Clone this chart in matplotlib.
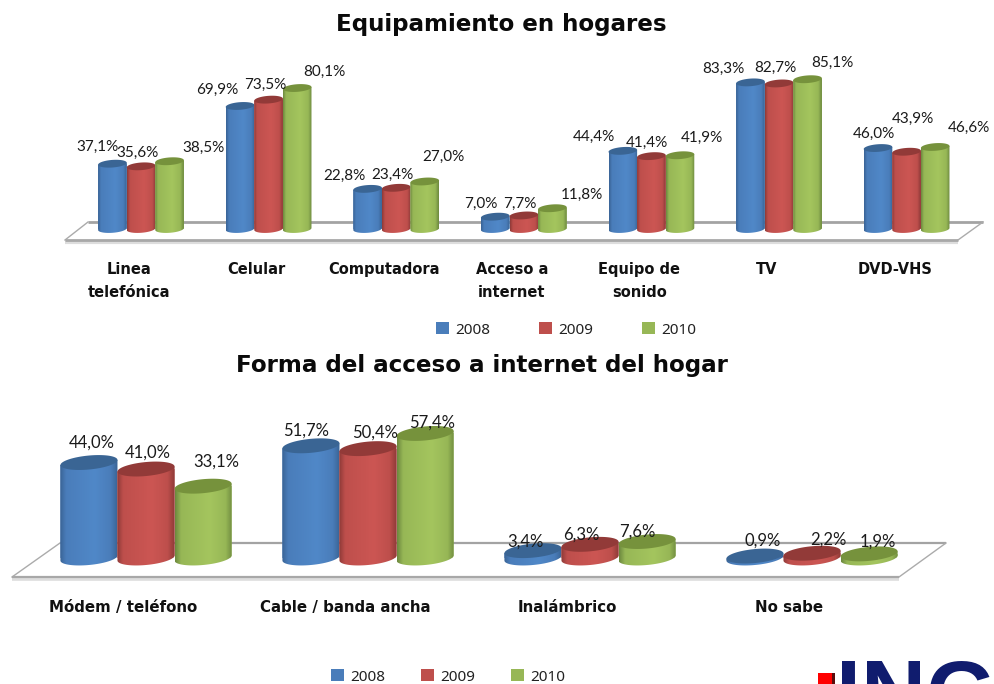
import numpy as np
import matplotlib
matplotlib.use("Agg")
import matplotlib.pyplot as plt
from matplotlib.colors import LinearSegmentedColormap
from matplotlib.patches import Polygon, Rectangle

W, H = 995, 684
years = ["2008", "2009", "2010"]

# Equipamiento en hogares
hogar_cats = ["Linea\ntelefónica", "Celular", "Computadora", "Acceso a\ninternet",
              "Equipo de\nsonido", "TV", "DVD-VHS"]
hogar_2008 = [37.1, 69.9, 22.8, 7.0, 44.4, 83.3, 46.0]
hogar_2009 = [35.6, 73.5, 23.4, 7.7, 41.4, 82.7, 43.9]
hogar_2010 = [38.5, 80.1, 27.0, 11.8, 41.9, 85.1, 46.6]

# Forma del acceso a internet del hogar
forma_cats = ["Módem / teléfono", "Cable / banda ancha", "Inalámbrico", "No sabe"]
forma_2008 = [44.0, 51.7, 3.4, 0.9]
forma_2009 = [41.0, 50.4, 6.3, 2.2]
forma_2010 = [33.1, 57.4, 7.6, 1.9]

# label placement in pixels (same order as the series, group by group)
hogar_lab_px = [(97, 147), (137, 153), (203, 148), (217, 90), (265, 85), (324, 72),
                (344, 176), (392, 175), (443, 157), (481, 204), (520, 204), (582, 195),
                (594, 137), (647, 143), (702, 138), (723, 69), (775, 68), (832, 63),
                (874, 134), (913, 119), (969, 128)]
forma_lab_px = [(92, 443), (148, 453), (216, 462), (306, 431), (375, 433), (432, 423),
                (525, 542), (581, 535), (637, 532), (763, 541), (828, 540), (878, 542)]

# (body, light, edge, cap)
palette = [("#4A7DBA", "#5088C8", "#3A6496", "#3A6594"),
           ("#BE4F4C", "#CC5653", "#8F3A38", "#923A38"),
           ("#97B756", "#A4C55E", "#6E8A3F", "#76923C")]

fig = plt.figure(figsize=(W / 100, H / 100), dpi=100)
fig.patch.set_facecolor("white")

bg = fig.add_axes([0, 0, 1, 1], zorder=0)
bg.set_xlim(0, W)
bg.set_ylim(H, 0)
bg.axis("off")


def floor(fl, fr, br, bl, lw):
    bg.plot([fl[0], fr[0]], [fl[1] + 2, fr[1] + 2], color="#DDDDDD", lw=lw + 1, solid_capstyle="butt")
    bg.plot([bl[0], br[0]], [bl[1], br[1]], color="#A3A3A3", lw=lw, solid_capstyle="butt")
    bg.plot([fl[0], bl[0]], [fl[1], bl[1]], color="#ABABAB", lw=1.0)
    bg.plot([fr[0], br[0]], [fr[1], br[1]], color="#ABABAB", lw=1.0)
    bg.plot([fl[0], fr[0]], [fl[1], fr[1]], color="#A8A8A8", lw=lw, solid_capstyle="butt")


floor((65, 240), (958, 240), (983, 222), (88, 222), 2.0)
floor((12, 577), (899, 577), (946, 543), (60, 543), 1.6)


def ellipse_arc(cx, y, a, b, s, t):
    xs = cx + a * np.cos(t)
    ys = y + b * np.sin(t) + s * (xs - cx)
    return xs, ys


def chart(rect_px, x0_px, dx_px, py, base_px, width, b_px, slope_px, series, cats,
          shift, pad, tick_size, tick_spacing, lab_px, lab_size, leg_px, leg_gap):
    left, right, top, bottom = rect_px
    ax = fig.add_axes([left / W, 1 - bottom / H, (right - left) / W, (bottom - top) / H], zorder=2)
    ax.patch.set_alpha(0)
    xlim = ((left - x0_px) / dx_px, (right - x0_px) / dx_px)
    ylim = ((base_px - bottom) / py, (base_px - top) / py)
    b = b_px / py
    s = slope_px * dx_px / py
    a = width / 2
    n = len(cats)
    xs = np.arange(n)
    for k, vals in enumerate(series):
        body, light, edge, capc = palette[k]
        cmap = LinearSegmentedColormap.from_list(
            "c", [(0, edge), (0.10, body), (0.60, light), (0.88, body), (1, edge)])
        grad = np.linspace(0, 1, 64).reshape(1, -1)
        centers = xs + (k - 1) * width
        bars = ax.bar(centers, vals, width, color=body, label=years[k], zorder=2 + k)
        for c, v, rect in zip(centers, vals, bars):
            t_low = np.linspace(np.pi, 2 * np.pi, 40)
            bx, by = ellipse_arc(c, 0, a, b, s, t_low)
            tx = bx[::-1]
            ty = v + s * (tx - c)
            poly = Polygon(np.column_stack([np.r_[bx, tx], np.r_[by, ty]]), closed=True,
                           transform=ax.transData, facecolor="none", edgecolor="none")
            ax.add_patch(poly)
            rect.set_clip_path(poly)
            im = ax.imshow(grad, extent=(c - a, c + a, -3 * b, v + 3 * b), aspect="auto",
                           cmap=cmap, vmin=0, vmax=1, zorder=2 + k, interpolation="bilinear")
            im.set_clip_path(poly)
            t = np.linspace(0, 2 * np.pi, 80)
            cx_, cy_ = ellipse_arc(c, v, a, b, s, t)
            ax.fill(cx_, cy_, color=capc, lw=0, zorder=2 + k + 0.5)
    ax.set_xlim(*xlim)
    ax.set_ylim(*ylim)
    ax.set_yticks([])
    ax.set_xticks(xs + shift, cats, fontfamily="DejaVu Sans", fontweight="bold",
                  fontsize=tick_size, color="#111111", linespacing=tick_spacing, va="top")
    ax.tick_params(axis="x", length=0, pad=pad)
    for sp in ax.spines.values():
        sp.set_visible(False)
    idx = 0
    for g in range(n):
        for k in range(3):
            v = series[k][g]
            px, py_ = lab_px[idx]
            fig.text(px / W, 1 - py_ / H, f"{v:.1f}".replace(".", ",") + "%",
                     ha="center", va="center", fontsize=lab_size, fontfamily="Lato",
                     color="#1A1A1A", zorder=10)
            idx += 1
    handles, labels = ax.get_legend_handles_labels()
    leg = fig.legend(handles, labels, ncol=3, frameon=False, loc="center left",
                     bbox_to_anchor=(leg_px[0] / W, 1 - leg_px[1] / H), borderpad=0,
                     borderaxespad=0, handlelength=0.85, handleheight=0.85,
                     handletextpad=0.4, columnspacing=leg_gap,
                     prop={"family": "Noto Sans", "size": 11})
    for txt in leg.get_texts():
        txt.set_color("#222222")
    return ax


chart((30, 990, 50, 247), 141, 127.6, 1.76, 229, 0.224, 3.8, 0.07,
      [hogar_2008, hogar_2009, hogar_2010], hogar_cats, -12 / 127.6, 10.5, 10.5, 1.7,
      hogar_lab_px, 11, (436, 330), 3.2)
chart((5, 990, 400, 585), 146, 222.0, 2.17, 558, 0.257, 7.0, 0.09,
      [forma_2008, forma_2009, forma_2010], forma_cats, -23 / 222.0, 11, 10.8, 1.5,
      forma_lab_px, 12, (331, 677), 2.35)

fig.text(501 / W, 1 - 24 / H, "Equipamiento en hogares", ha="center", va="center",
         fontsize=16.6, fontweight="bold", fontfamily="DejaVu Sans", color="#0A0A0A")
fig.text(482 / W, 1 - 365.5 / H, "Forma del acceso a internet del hogar", ha="center", va="center",
         fontsize=16.6, fontweight="bold", fontfamily="DejaVu Sans", color="#0A0A0A")

# logo, cut by the lower edge of the page
bg.add_patch(Rectangle((818, 673), 15, 12, color="#FF0000", lw=0))
bg.add_patch(Rectangle((832, 673), 3, 12, color="#5A0C0C", lw=0))
bg.text(836, 658, "INGA", fontfamily="Liberation Sans", fontweight="bold", fontsize=65,
        color="#101C6E", va="top", ha="left")

fig.savefig("out.png", dpi=100, facecolor="white")
